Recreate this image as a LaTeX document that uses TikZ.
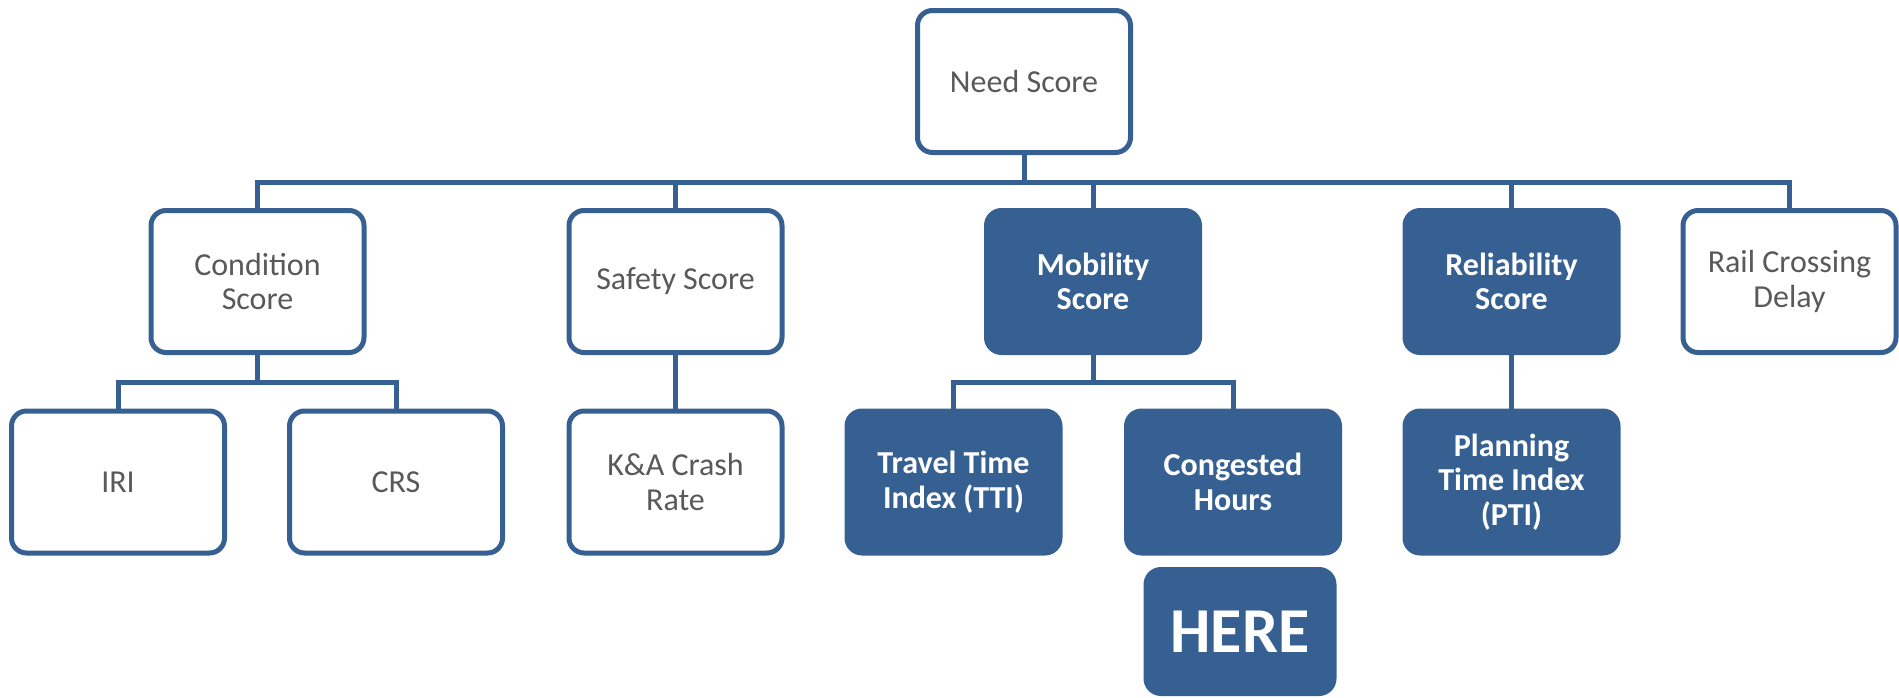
\documentclass[tikz,border=0pt]{standalone}
\usepackage{fontspec}
\setmainfont{Carlito}
\definecolor{navy}{HTML}{376092}
\definecolor{txtgray}{HTML}{595959}
\tikzset{
  boxbase/.style={rectangle, rounded corners=15pt, line width=5pt, draw=navy,
    minimum width=213pt, minimum height=142pt, align=center, inner sep=2pt,
    font=\fontsize{32}{34.5}\selectfont},
  plainbox/.style={boxbase, fill=white, text=txtgray},
  darkbox/.style={boxbase, fill=navy, text=white, font=\fontsize{32}{34.5}\selectfont\bfseries},
  conn/.style={draw=navy, line width=5pt, line join=miter}
}
\begin{document}
\begin{tikzpicture}[x=1pt,y=-1pt]
\useasboundingbox (0,0) rectangle (1899,697);
% top
\node[plainbox] (need) at (1024,81.5) {Need Score};
% row 1
\node[plainbox] (cond) at (257.5,281.5) {Condition\\Score};
\node[plainbox] (safety) at (675.5,281.5) {Safety Score};
\node[darkbox] (mob) at (1093,281.5) {Mobility\\Score};
\node[darkbox] (rel) at (1511.5,281.5) {Reliability\\Score};
\node[plainbox] (rail) at (1789.5,281.5) {Rail Crossing\\Delay};
% row 2
\node[plainbox] (iri) at (118,482) {IRI};
\node[plainbox] (crs) at (396,482) {CRS};
\node[plainbox] (ka) at (675.5,482) {K\&A Crash\\Rate};
\node[darkbox] (tti) at (953.5,482) {Travel Time\\Index (TTI)};
\node[darkbox] (cong) at (1233,482) {Congested\\Hours};
\node[darkbox] (pti) at (1511.5,482) {Planning\\Time Index\\(PTI)};
% here
\node[darkbox, minimum width=188pt, minimum height=124pt, font=\fontsize{64}{70}\selectfont\bfseries] (here) at (1240,631.5) {HERE};
% bus coordinates
\coordinate (bus) at (0,182);
\coordinate (sub) at (0,382);
% main bus
\draw[conn] (need.south) -- (need.south |- bus);
\draw[conn] (cond.north) |- (rail.north |- bus) -- (rail.north);
\draw[conn] (safety.north) -- (safety.north |- bus);
\draw[conn] (mob.north) -- (mob.north |- bus);
\draw[conn] (rel.north) -- (rel.north |- bus);
% condition sub-bus
\draw[conn] (cond.south) -- (cond.south |- sub);
\draw[conn] (iri.north) |- (crs.north |- sub) -- (crs.north);
% safety
\draw[conn] (safety.south) -- (ka.north);
% mobility sub-bus
\draw[conn] (mob.south) -- (mob.south |- sub);
\draw[conn] (tti.north) |- (cong.north |- sub) -- (cong.north);
% reliability
\draw[conn] (rel.south) -- (pti.north);
\end{tikzpicture}
\end{document}
